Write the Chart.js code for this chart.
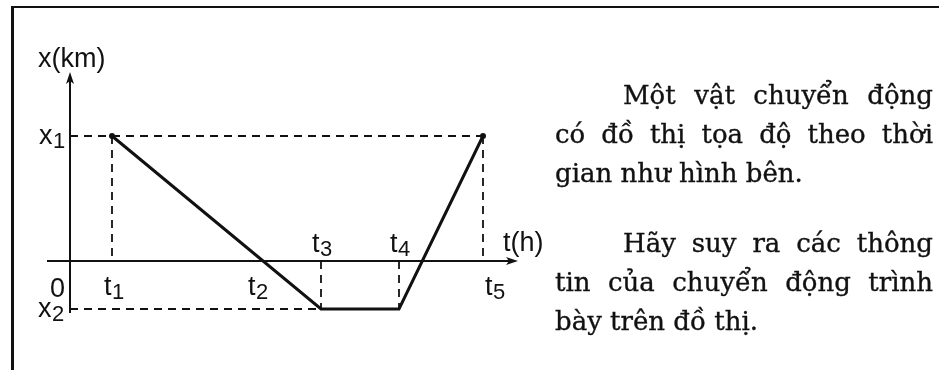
<!DOCTYPE html>
<html>
<head>
<meta charset="utf-8">
<script src="https://cdn.jsdelivr.net/npm/chart.js@4/dist/chart.umd.min.js"></script>
<style>
  html, body { margin: 0; padding: 0; background: #fff; }
  #wrap { position: relative; width: 939px; height: 370px; overflow: hidden; }
  #frame { position: absolute; left: 11px; top: 6px; right: -10px; bottom: -10px;
           border-left: 3px solid #111; border-top: 2px solid #111; }
  #graph { position: absolute; left: 0; top: 0; }
  .txt { position: absolute; left: 555px; width: 378px; color: #111;
         font-family: "DejaVu Serif", serif; font-size: 26px; line-height: 39px;
         -webkit-text-stroke: 0.35px #111; }
  .j { text-align: justify; text-align-last: justify; }
  .ind { padding-left: 68px; }
</style>
</head>
<body>
<div id="wrap">
  <div id="frame"></div>
  <canvas id="graph" width="939" height="370" style="width:939px;height:370px"></canvas>
  <div class="txt" style="top:76px">
    <div class="j ind">Một vật chuyển động</div>
    <div class="j">có đồ thị tọa độ theo thời</div>
    <div>gian như hình bên.</div>
  </div>
  <div class="txt" style="top:224px">
    <div class="j ind">Hãy suy ra các thông</div>
    <div class="j">tin của chuyển động trình</div>
    <div>bày trên đồ thị.</div>
  </div>
</div>
<script>
// times on the t axis (t1..t5) and positions x1, x2
const tNames = ['t1', 't2', 't3', 't4', 't5'];
const tValues = [4.2, 19.3, 25.1, 32.9, 41.3];
const xNames = ['x1', 'x2'];
const xValues = [12.5, -4.8];
const tRange = [-2.3, 44.8];
const xRange = [-5.2, 18.9];
const tTitle = 't(h)';
const xTitle = 'x(km)';
const originLabel = '0';

// the motion: x1 at t1, down to x2 at t3, rest until t4, back to x1 at t5
const pathT = [tValues[0], tValues[2], tValues[3], tValues[4]];
const pathX = [xValues[0], xValues[1], xValues[1], xValues[0]];

// dashed guide lines
const guides = [
    [[0, xValues[0]], [tValues[4], xValues[0]]],
    [[tValues[0], xValues[0]], [tValues[0], 0]],
    [[tValues[4], xValues[0]], [tValues[4], 0]],
    [[tValues[2], 0], [tValues[2], xValues[1]]],
    [[tValues[3], 0], [tValues[3], xValues[1]]],
    [[0, xValues[1]], [tValues[2], xValues[1]]]
];

const ink = '#111';
const bigFont = '27px "Liberation Sans Narrow", "Liberation Sans", Arial, sans-serif';
const subFont = '22px "Liberation Sans Narrow", "Liberation Sans", Arial, sans-serif';

function subLabel(ctx, text, x, y) {
    ctx.font = bigFont;
    ctx.fillText(text[0], x, y);
    const w = ctx.measureText(text[0]).width;
    if (text.length > 1) {
        ctx.font = subFont;
        ctx.fillText(text.slice(1), x + w + 0.5, y + 4);
    }
}

const axesPlugin = {
    id: 'axes',
    beforeDatasetsDraw(chart) {
        const ctx = chart.ctx;
        const sx = chart.scales.x, sy = chart.scales.y;
        const x0 = sx.getPixelForValue(0), y0 = sy.getPixelForValue(0);
        const left = sx.getPixelForValue(tRange[0]), right = sx.getPixelForValue(tRange[1]);
        const top = sy.getPixelForValue(xRange[1]), bottom = sy.getPixelForValue(xRange[0]);
        ctx.save();
        ctx.strokeStyle = ink;
        ctx.fillStyle = ink;
        ctx.lineWidth = 2;
        ctx.beginPath();
        ctx.moveTo(left, y0);
        ctx.lineTo(right - 6, y0);
        ctx.moveTo(x0, bottom);
        ctx.lineTo(x0, top + 6);
        ctx.stroke();
        // arrow heads
        ctx.beginPath();
        ctx.moveTo(right, y0);
        ctx.lineTo(right - 12, y0 - 4);
        ctx.lineTo(right - 9, y0);
        ctx.lineTo(right - 12, y0 + 4);
        ctx.closePath();
        ctx.fill();
        ctx.beginPath();
        ctx.moveTo(x0, top);
        ctx.lineTo(x0 - 4, top + 12);
        ctx.lineTo(x0, top + 9);
        ctx.lineTo(x0 + 4, top + 12);
        ctx.closePath();
        ctx.fill();
        ctx.restore();
    },
    afterDatasetsDraw(chart) {
        const ctx = chart.ctx;
        const sx = chart.scales.x, sy = chart.scales.y;
        const x0 = sx.getPixelForValue(0), y0 = sy.getPixelForValue(0);
        const side = ['below', 'below', 'above', 'above', 'below'];
        const dx = [-8, -15, -9, -9, 2];
        ctx.save();
        ctx.fillStyle = ink;
        ctx.textBaseline = 'alphabetic';
        ctx.textAlign = 'left';
        tNames.forEach((name, i) => {
            const px = sx.getPixelForValue(tValues[i]);
            const py = side[i] === 'below' ? y0 + 34 : y0 - 9;
            subLabel(ctx, name, px + dx[i], py);
        });
        xNames.forEach((name, i) => {
            const py = sy.getPixelForValue(xValues[i]);
            subLabel(ctx, name, x0 - 31 + (i === 1 ? -1 : 0), py + 8);
        });
        ctx.font = bigFont;
        ctx.fillText(originLabel, x0 - 20, y0 + 36);
        ctx.fillText(xTitle, x0 - 32, sy.getPixelForValue(xRange[1]) - 5);
        ctx.fillText(tTitle, sx.getPixelForValue(tRange[1]) - 15, y0 - 10);
        ctx.restore();
    }
};

const datasets = guides.map(g => ({
    data: g.map(p => ({ x: p[0], y: p[1] })),
    showLine: true,
    borderColor: ink,
    borderWidth: 1.8,
    borderDash: [8, 6],
    pointRadius: 0,
    clip: false
}));

datasets.push({
    data: pathT.map((t, i) => ({ x: t, y: pathX[i] })),
    showLine: true,
    borderColor: ink,
    borderWidth: 3,
    pointRadius: [3, 0, 0, 3],
    pointBackgroundColor: ink,
    pointBorderWidth: 0,
    clip: false
});

new Chart(document.getElementById('graph').getContext('2d'), {
    type: 'scatter',
    data: { datasets: datasets },
    options: {
        responsive: false,
        animation: false,
        layout: { padding: { left: 47, right: 421, top: 72, bottom: 57 } },
        scales: {
            x: { type: 'linear', min: tRange[0], max: tRange[1], display: false },
            y: { type: 'linear', min: xRange[0], max: xRange[1], display: false }
        },
        plugins: { legend: { display: false }, tooltip: { enabled: false } }
    },
    plugins: [axesPlugin]
});
</script>
</body>
</html>
